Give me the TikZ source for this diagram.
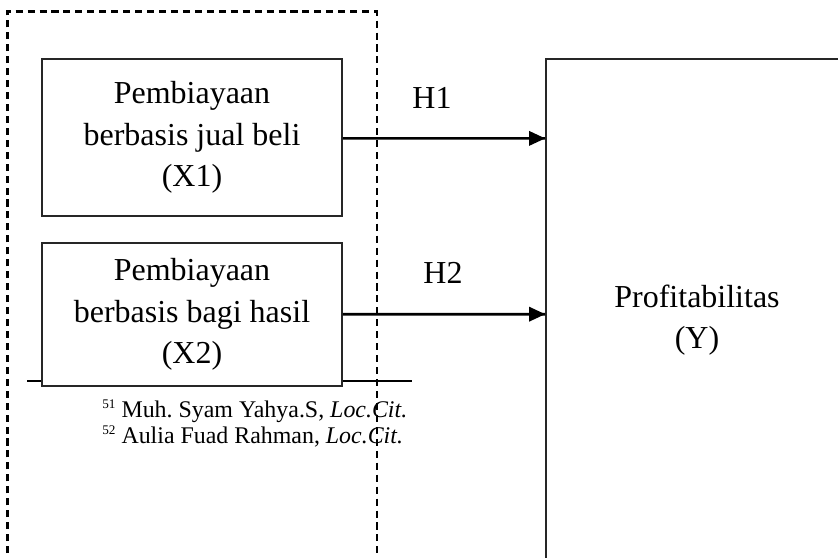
\documentclass[tikz,border=0pt]{standalone}
\usepackage{fontspec}
\setmainfont{Liberation Serif}
\usetikzlibrary{shapes}

\begin{document}
\begin{tikzpicture}[scale=0.2]
	\tikzstyle{every node}+=[inner sep=0pt]
	\tikzstyle{var}=[draw=black!85, fill=white, line width=1pt, align=center, minimum width=6cm, font=\fontsize{18.2}{23.6}\selectfont]
	\tikzstyle{hyp}=[font=\fontsize{18.2}{23.6}\selectfont]
	\tikzstyle{note}=[anchor=base west, font=\fontsize{13.6}{14.8}\selectfont]
	\useasboundingbox (0,0) rectangle (83.8,-55.8);
	\clip (0,0) rectangle (83.8,-55.8);
	\draw [black, line width=1.3pt, dash pattern=on 4pt off 2.8pt] (0.75,-56.5) -- (0.75,-1.15) -- (37.7,-1.15) -- (37.7,-56.5);
	\draw [black, line width=1.2pt] (2.7,-38.1) -- (41.2,-38.1);
	\node [var, minimum height=3.14cm] (x1) at (19.2,-13.75) {Pembiayaan\\berbasis jual beli\\(X1)};
	\node [var, minimum height=2.86cm] (x2) at (19.2,-31.45) {Pembiayaan\\berbasis bagi hasil\\(X2)};
	\node [var, minimum width=6.04cm, minimum height=10.44cm] (y) at (69.7,-32) {Profitabilitas\\(Y)};
	\draw (10.2,-41.7) node [note] (fn1) {\raisebox{5.1pt}{\fontsize{7.5}{8}\selectfont 51} Muh.\ Syam Yahya.S, \textit{Loc.Cit.}};
	\draw (10.2,-44.3) node [note] (fn2) {\raisebox{5.1pt}{\fontsize{7.5}{8}\selectfont 52} Aulia Fuad Rahman, \textit{Loc.Cit.}};
	\coordinate (s1) at ([yshift=-0.9mm]x1.east);
	\coordinate (t1) at (s1 -| y.west);
	\coordinate (s2) at ([yshift=0.3mm]x2.east);
	\coordinate (t2) at (s2 -| y.west);
	\draw [black, line width=1.5pt] (s1) -- (t1);
	\fill [black] (t1) -- ++(-1.6,0.75) -- ++(0,-1.5) -- cycle;
	\draw (43.2,-9.8) node [hyp] (h1) {H1};
	\draw [black, line width=1.5pt] (s2) -- (t2);
	\fill [black] (t2) -- ++(-1.6,0.75) -- ++(0,-1.5) -- cycle;
	\draw (44.3,-27.3) node [hyp] (h2) {H2};
\end{tikzpicture}
\end{document}
